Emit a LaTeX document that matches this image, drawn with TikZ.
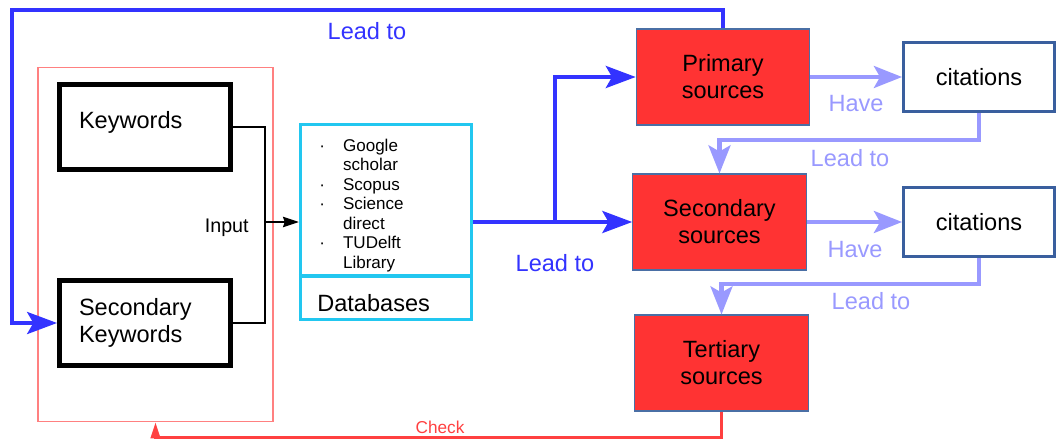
\documentclass[tikz,border=0pt]{standalone}
\usepackage{fontspec}
\setmainfont{Liberation Sans}
\usetikzlibrary{arrows.meta}

\definecolor{srcred}{HTML}{FF3333}
\definecolor{srcedge}{HTML}{4A6FA5}
\definecolor{citeedge}{HTML}{3A5F9E}
\definecolor{dbcyan}{HTML}{22C7F0}
\definecolor{leadblue}{HTML}{3333FF}
\definecolor{havelight}{HTML}{9999FF}
\definecolor{framered}{HTML}{FF8080}
\definecolor{checkred}{HTML}{FF4040}

\newcommand\bigtxt{\fontsize{13.4}{15.3}\selectfont}
\newcommand\listtxt{\fontsize{9.7}{11.1}\selectfont}
\newcommand\inputtxt{\fontsize{11.2}{13}\selectfont}
\newcommand\checktxt{\fontsize{9.8}{12}\selectfont}

\tikzset{
  kwbox/.style={draw, line width=2.8pt, minimum width=3.42cm, minimum height=1.7cm,
    text width=2.64cm, inner xsep=0.39cm, align=left, font=\bigtxt},
  kwframe/.style={draw=framered, line width=0.6pt, minimum width=4.7cm, minimum height=7.1cm},
  dbbox/.style={draw=dbcyan, line width=2pt, minimum width=3.42cm, minimum height=3.9cm},
  srcbox/.style={draw=srcedge, line width=0.6pt, fill=srcred, minimum width=3.47cm,
    minimum height=1.92cm, align=center, font=\bigtxt},
  citebox/.style={draw=citeedge, line width=1.7pt, minimum width=3.02cm, minimum height=1.38cm,
    font=\bigtxt},
  leadline/.style={draw=leadblue, line width=2.3pt,
    -{Stealth[length=17pt,width=12.5pt,inset=3.5pt]}},
  haveline/.style={draw=havelight, line width=2.3pt,
    -{Stealth[length=16pt,width=12.5pt,inset=3.5pt]}},
  leadtxt/.style={text=leadblue, font=\bigtxt, inner sep=0},
  havetxt/.style={text=havelight, font=\bigtxt, inner sep=0},
}

\begin{document}
\begin{tikzpicture}[x=0.02cm,y=-0.02cm]
  \useasboundingbox (0,0) rectangle (1059,443);
  %\draw[very thin,lightgray,step=50] (0,0) grid (1059,443);

  % keyword side
  \node[kwframe] (kwarea) at (155.5,244.5) {};
  \node[kwbox,text depth=8pt] (kw) at (145,127) {Keywords};
  \node[kwbox] (skw) at (145,323) {Secondary\\Keywords};

  % databases
  \node[dbbox] (db) at (386,222) {};
  \coordinate (dbcut) at (0,276);
  \draw[draw=dbcyan,line width=2pt] (db.west |- dbcut) -- (db.east |- dbcut);
  \node[anchor=west,inner sep=0,font=\listtxt] (dblist) at (319,206) {%
    \begin{tabular}{@{}p{13.5pt}@{}l@{}}
      · & Google\\ & scholar\\ · & Scopus\\ · & Science\\ & direct\\ · & TUDelft\\ & Library
    \end{tabular}};
  \node[anchor=west,inner sep=0,font=\bigtxt] (dbtitle) at (317,303) {Databases};

  \coordinate (inmerge) at (265,222);
  \draw[line width=0.6pt] (kw.east) -| (inmerge);
  \draw[line width=0.6pt] (skw.east) -| (inmerge);
  \draw[line width=0.6pt,-{Stealth[length=9pt,width=6pt,inset=1pt]}] (inmerge) -- (db.west);
  \node[anchor=east,inner sep=0,font=\inputtxt] (inlabel) at (249,228) {Input};

  % sources
  \node[srcbox] (prim) at (723,77) {Primary\\sources};
  \node[srcbox] (sec) at (719.5,222) {Secondary\\sources};
  \node[srcbox] (ter) at (721.5,363) {Tertiary\\sources};
  \node[citebox] (cite1) at (979,77) {citations};
  \node[citebox] (cite2) at (979,222) {citations};

  \coordinate (split) at (555,222);
  \draw[draw=leadblue,line width=2.3pt] (db.east) -- (split);
  \draw[leadline] (split) -- (sec.west);
  \draw[leadline] (split) |- (prim.west);
  \node[leadtxt] (lead1) at (555,263) {Lead to};

  \coordinate (topturn) at (12,10);
  \draw[leadline] (prim.north) |- (topturn) |- (skw.west);
  \node[leadtxt] (lead2) at (367,31) {Lead to};

  % citations lead on
  \draw[haveline] (prim.east) -- (cite1.west);
  \node[havetxt] (have1) at (856,104) {Have};
  \draw[haveline] (cite1.south) -- ++(0,27) -| (sec.north);
  \node[havetxt] (lead3) at (850,158) {Lead to};

  \draw[haveline] (sec.east) -- (cite2.west);
  \node[havetxt] (have2) at (855,250) {Have};
  \draw[haveline] (cite2.south) -- ++(0,26) -| (ter.north);
  \node[havetxt] (lead4) at (871,301) {Lead to};

  % back to the keywords
  \draw[draw=checkred,line width=1.2pt,-{Triangle[length=9pt,width=5.5pt]}]
    (ter.south) -- ++(0,26) -| (kwarea.south);
  \node[text=checkred,font=\checktxt,inner sep=0] (check) at (440,427) {Check};
\end{tikzpicture}
\end{document}
